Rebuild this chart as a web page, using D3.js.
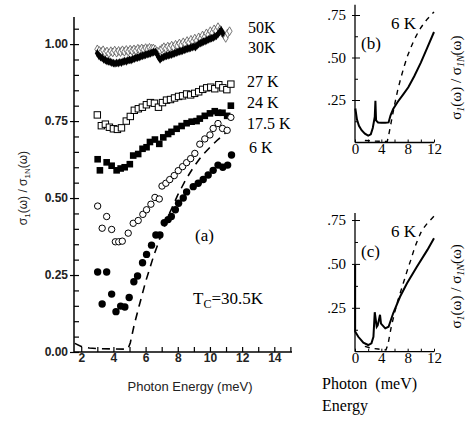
<!DOCTYPE html>
<html><head><meta charset="utf-8">
<script src="https://cdn.jsdelivr.net/npm/d3@7/dist/d3.min.js"></script>
<style>
body{margin:0;background:#fff;}
svg{display:block;}
.serif{font-family:"Liberation Serif","Times New Roman",serif;}
.sans{font-family:"Liberation Sans",Arial,sans-serif;}
</style></head>
<body><svg id="c" width="468" height="422"></svg>
<script>
// ---------- data ----------
const k50 = [[3.00,.983],[3.12,.978],[3.24,.975],[3.36,.980],[3.48,.972],[3.60,.976],[3.72,.970],[3.84,.977],[3.96,.973],[4.08,.979],[4.20,.972],[4.32,.978],[4.44,.974],[4.56,.980],[4.68,.975],[4.80,.981],[4.92,.976],[5.04,.982],[5.16,.978],[5.28,.983],[5.40,.979],[5.52,.985],[5.64,.981],[5.76,.986],[5.88,.982],[6.00,.987],[6.12,.984],[6.24,.988],[6.36,.985],[6.48,.986],[6.60,.982],[6.75,.975],[6.90,.980],[7.02,.985],[7.14,.990],[7.26,.986],[7.38,.992],[7.50,.988],[7.62,.995],[7.74,.990],[7.86,.998],[7.98,.994],[8.10,1.002],[8.22,.997],[8.34,1.006],[8.46,1.001],[8.58,1.010],[8.70,1.005],[8.82,1.014],[8.94,1.008],[9.06,1.018],[9.18,1.012],[9.30,1.022],[9.42,1.017],[9.54,1.028],[9.66,1.022],[9.78,1.035],[9.90,1.030],[10.02,1.042],[10.14,1.036],[10.26,1.048],[10.38,1.043],[10.50,1.055],[10.62,1.047],[10.74,1.038],[10.86,1.030],[10.98,1.020],[11.10,1.035],[11.22,1.042]];
const k30 = [[3.00,.970],[3.10,.962],[3.20,.958],[3.30,.955],[3.40,.950],[3.50,.948],[3.60,.945],[3.70,.944],[3.80,.942],[3.90,.940],[4.00,.938],[4.10,.937],[4.20,.939],[4.30,.938],[4.40,.941],[4.50,.940],[4.60,.943],[4.70,.945],[4.80,.944],[4.90,.947],[5.00,.949],[5.10,.948],[5.20,.951],[5.30,.953],[5.40,.955],[5.50,.956],[5.60,.958],[5.70,.960],[5.80,.962],[5.90,.963],[6.00,.965],[6.10,.967],[6.20,.968],[6.30,.970],[6.40,.972],[6.50,.974],[6.60,.975],[6.70,.968],[6.80,.958],[6.90,.950],[7.00,.955],[7.10,.958],[7.20,.960],[7.30,.962],[7.40,.963],[7.50,.965],[7.60,.966],[7.70,.968],[7.80,.970],[7.90,.972],[8.00,.974],[8.10,.976],[8.20,.977],[8.30,.979],[8.40,.981],[8.50,.983],[8.60,.985],[8.70,.986],[8.80,.988],[8.90,.990],[9.00,.992],[9.10,.990],[9.20,.996],[9.30,1.000],[9.40,1.003],[9.50,1.005],[9.60,1.008],[9.70,1.010],[9.80,1.012],[9.90,1.015],[10.00,1.017],[10.10,1.019],[10.20,1.021],[10.30,1.024],[10.40,1.027],[10.50,1.032],[10.60,1.040],[10.70,1.045],[10.80,1.035]];
const k27 = [[3.00,.770],[3.25,.735],[3.50,.740],[3.75,.730],[4.00,.725],[4.25,.723],[4.50,.728],[4.80,.750],[5.05,.765],[5.30,.785],[5.55,.790],[5.80,.795],[6.05,.803],[6.30,.810],[6.55,.808],[6.80,.795],[7.05,.810],[7.30,.818],[7.55,.820],[7.80,.825],[8.05,.830],[8.30,.832],[8.55,.838],[8.80,.835],[9.05,.840],[9.30,.845],[9.55,.853],[9.80,.858],[10.05,.860],[10.30,.855],[10.55,.868],[10.80,.858],[11.05,.852],[11.30,.870]];
const k24 = [[3.02,.626],[3.16,.590],[3.58,.616],[3.89,.605],[4.20,.590],[4.45,.596],[4.70,.600],[5.02,.610],[5.23,.638],[5.54,.643],[5.81,.660],[6.06,.665],[6.27,.682],[6.58,.690],[6.85,.676],[7.10,.697],[7.40,.708],[7.61,.715],[7.93,.725],[8.24,.734],[8.55,.743],[8.86,.748],[9.17,.750],[9.37,.758],[9.68,.767],[10.00,.775],[10.30,.782],[10.50,.777],[10.78,.777],[11.07,.767],[11.30,.800]];
const k175 = [[3.02,.474],[3.30,.402],[3.58,.440],[3.89,.398],[4.12,.358],[4.33,.358],[4.55,.360],[4.92,.386],[5.23,.418],[5.54,.427],[5.83,.447],[6.06,.462],[6.33,.480],[6.58,.502],[6.85,.497],[7.02,.539],[7.26,.548],[7.50,.560],[7.78,.573],[8.03,.589],[8.30,.602],[8.55,.615],[8.80,.628],[9.06,.645],[9.37,.675],[9.68,.692],[10.00,.705],[10.20,.726],[10.50,.742],[10.78,.726],[11.07,.720],[11.30,.762]];
const k6 = [[3.02,.260],[3.30,.156],[3.58,.260],[3.89,.188],[4.16,.131],[4.45,.149],[4.71,.146],[4.98,.177],[5.27,.228],[5.50,.247],[5.81,.290],[6.06,.317],[6.37,.347],[6.64,.380],[6.89,.380],[7.16,.420],[7.40,.430],[7.60,.440],[7.85,.462],[8.05,.483],[8.34,.500],[8.55,.520],[8.96,.537],[9.27,.548],[9.58,.560],[9.89,.575],[10.20,.590],[10.50,.607],[10.80,.600],[11.10,.607],[11.34,.640]];
const mbMain = [[1.6,.028],[2.0,.018],[2.5,.013],[3.0,.011],[4.0,.010],[4.9,.009],[5.05,.030],[5.3,.090],[5.6,.150],[6.0,.228],[6.5,.312],[7.0,.385],[7.5,.452],[8.0,.510],[8.5,.560],[9.0,.602],[9.5,.637],[10.0,.665],[10.5,.690],[11.0,.713],[11.2,.722]];
const bSolid = [[0.05,.200],[0.3,.135],[0.6,.098],[1.0,.072],[1.5,.052],[2.0,.040],[2.4,.048],[2.7,.085],[3.0,.150],[3.1,.245],[3.2,.130],[3.5,.118],[4.0,.116],[4.6,.116],[5.1,.118],[5.4,.160],[5.8,.198],[6.5,.240],[7.3,.282],[8.1,.325],[9.0,.390],[10.0,.470],[11.0,.560],[12.0,.650]];
const bDash = [[1.5,.012],[3.0,.008],[4.9,.006],[5.1,.040],[5.5,.120],[6.0,.220],[6.5,.310],[7.0,.385],[7.5,.452],[8.0,.512],[8.5,.560],[9.0,.605],[9.5,.642],[10.0,.675],[10.5,.703],[11.0,.727],[11.5,.748],[12.0,.768]];
const cSolid = [[0.02,.495],[0.02,.115],[0.5,.085],[1.27,.051],[2.0,.038],[2.5,.048],[2.8,.085],[3.0,.225],[3.3,.142],[3.45,.150],[3.8,.210],[3.95,.160],[4.6,.133],[5.1,.142],[5.8,.219],[6.84,.313],[7.9,.390],[9.4,.484],[11.0,.580],[12.0,.646]];
const cDash = [[1.5,.030],[2.5,.020],[3.5,.015],[4.7,.010],[5.0,.040],[5.5,.140],[6.0,.220],[6.5,.290],[7.0,.350],[7.5,.410],[8.0,.470],[8.5,.525],[9.0,.585],[9.5,.635],[10.0,.678],[10.5,.708],[11.0,.732],[11.5,.752],[12.0,.772]];
const mainXTicks = [2,4,6,8,10,12,14];
const mainYTicks = [0,0.25,0.5,0.75,1.0];
const insetXTicks = [0,4,8,12];
const insetYTicks = [0.25,0.5,0.75];
const seriesLabels = ["50K","30K","27 K","24 K","17.5 K","6 K"];

// ---------- drawing ----------
const svg = d3.select("#c");
const x = d3.scaleLinear().domain([1.55,15.1]).range([74,292]);
const y = d3.scaleLinear().domain([0,1.088]).range([352,17]);
const g = svg.append("g");

// axes
const xAx = d3.axisBottom(x).tickValues(d3.range(2,16,1)).tickSize(-5).tickFormat(d=>mainXTicks.includes(d)?d:"");
const gx = g.append("g").attr("transform","translate(0,352)").call(xAx);
gx.select(".domain").attr("d","M74,0H292").attr("stroke-width",1.5);
gx.selectAll("text").attr("class","sans").attr("font-size",12).attr("dy","0.6em").attr("font-weight","bold").attr("fill","#222");
gx.selectAll("line").attr("stroke-width",1.2);

const yAx = d3.axisLeft(y).tickValues(d3.range(0,1.09,0.05)).tickSize(-5).tickFormat(d=>{const r=Math.round(d*100)/100; return mainYTicks.some(t=>Math.abs(t-r)<1e-6)?d3.format(".2f")(r):"";});
const gy = g.append("g").attr("transform","translate(74,0)").call(yAx);
gy.select(".domain").attr("d","M0,17V352").attr("stroke-width",1.5);
gy.selectAll("text").attr("class","sans").attr("font-size",12).attr("x",-6).attr("font-weight","bold").attr("fill","#222");
gy.selectAll(".tick").filter(d=>mainYTicks.some(t=>Math.abs(t-d)<1e-6)).select("line").attr("x1",-4);
gy.selectAll("line").attr("stroke-width",1.2);

// dashed theory
const line = d3.line().x(d=>x(d[0])).y(d=>y(d[1]));
g.append("path").attr("d",line(mbMain)).attr("fill","none").attr("stroke","#000").attr("stroke-width",1.6).attr("stroke-dasharray","8,6");

// markers
const dia = d3.symbol().type(d3.symbolDiamond).size(22);
g.selectAll(".d50").data(k50).join("path").attr("transform",d=>`translate(${x(d[0])},${y(d[1])})`).attr("d",dia).attr("fill","#fff").attr("stroke","#555").attr("stroke-width",0.8);
g.selectAll(".d30").data(k30).join("path").attr("transform",d=>`translate(${x(d[0])},${y(d[1])})`).attr("d",dia).attr("fill","#000");
g.selectAll(".s27").data(k27).join("rect").attr("x",d=>x(d[0])-3.2).attr("y",d=>y(d[1])-3.2).attr("width",6.4).attr("height",6.4).attr("fill","#fff").attr("stroke","#000").attr("stroke-width",1);
g.selectAll(".s24").data(k24).join("rect").attr("x",d=>x(d[0])-3.3).attr("y",d=>y(d[1])-3.3).attr("width",6.6).attr("height",6.6).attr("fill","#000");
g.selectAll(".c175").data(k175).join("circle").attr("cx",d=>x(d[0])).attr("cy",d=>y(d[1])).attr("r",3.2).attr("fill","#fff").attr("stroke","#000").attr("stroke-width",1);
g.selectAll(".c6").data(k6).join("circle").attr("cx",d=>x(d[0])).attr("cy",d=>y(d[1])).attr("r",3.7).attr("fill","#000");

// labels
const labY = [33,53,87,108,129,153];
const labX = [248,248,247,247,247,249];
seriesLabels.forEach((t,i)=>g.append("text").attr("class","serif").attr("x",labX[i]).attr("y",labY[i]).attr("font-size",16).text(t));
g.append("text").attr("class","serif").attr("x",195).attr("y",241).attr("font-size",17).text("(a)");
const tc = g.append("text").attr("class","serif").attr("x",193).attr("y",304).attr("font-size",17);
tc.append("tspan").text("T");
tc.append("tspan").attr("font-size",12).attr("dy",4).text("C");
tc.append("tspan").attr("dy",-4).text("=30.5K");

g.append("text").attr("class","sans").attr("x",190).attr("y",391).attr("text-anchor","middle").attr("font-size",13).attr("fill","#222").text("Photon Energy (meV)");
const yl = g.append("text").attr("class","sans").attr("transform","translate(27,188) rotate(-90)").attr("text-anchor","middle").attr("font-size",12).attr("fill","#222");
yl.append("tspan").text("σ");
yl.append("tspan").attr("font-size",8).attr("dy",3).text("1");
yl.append("tspan").attr("dy",-3).text("(ω) / σ");
yl.append("tspan").attr("font-size",8).attr("dy",3).text("1N");
yl.append("tspan").attr("dy",-3).text("(ω)");

// ---------- insets ----------
function inset(top, bottom, ymax, solid, dash, tag){
  const xi = d3.scaleLinear().domain([0,12]).range([355,434]);
  const yi = d3.scaleLinear().domain([0,ymax]).range([bottom,top]);
  const gi = svg.append("g");
  const ax = d3.axisBottom(xi).tickValues(d3.range(0,13,2)).tickSize(-3).tickFormat(d=>insetXTicks.includes(d)?d:"");
  const gxa = gi.append("g").attr("transform",`translate(0,${bottom})`).call(ax);
  gxa.select(".domain").attr("d","M355,0H434").attr("stroke-width",1.3);
  gxa.selectAll("text").attr("class","serif").attr("font-size",15).attr("dy","0.55em").attr("fill","#000");
  const ay = d3.axisLeft(yi).tickValues([0.125,0.25,0.375,0.5,0.625,0.75]).tickSize(-3).tickFormat(d=>insetYTicks.includes(d)?d3.format(".2f")(d).slice(1):"");
  const gya = gi.append("g").attr("transform","translate(355,0)").call(ay);
  gya.select(".domain").attr("d",`M0,${top}V${bottom}`).attr("stroke-width",1.3);
  gya.selectAll("text").attr("class","serif").attr("font-size",15).attr("x",-9).attr("fill","#000");
  gya.selectAll(".tick").filter(d=>insetYTicks.includes(d)).select("line").attr("x1",-3).attr("x2",5);
  const li = d3.line().x(d=>xi(d[0])).y(d=>yi(d[1]));
  gi.append("path").attr("d",li(dash)).attr("fill","none").attr("stroke","#000").attr("stroke-width",1.4).attr("stroke-dasharray","5,5");
  gi.append("path").attr("d",li(solid)).attr("fill","none").attr("stroke","#000").attr("stroke-width",2);
  gi.append("text").attr("class","serif").attr("x",391).attr("y",yi(ymax)+24).attr("font-size",17).text("6 K");
  gi.append("text").attr("class","serif").attr("x",361).attr("y",yi(ymax)+44).attr("font-size",17).text(tag);
  const rl = gi.append("text").attr("class","serif").attr("transform",`translate(461,${(top+bottom)/2+4}) rotate(-90)`).attr("text-anchor","middle").attr("font-size",15);
  rl.append("tspan").text("σ");
  rl.append("tspan").attr("font-size",10).attr("font-style","italic").attr("dy",3).text("1");
  rl.append("tspan").attr("dy",-3).text("(ω) / σ");
  rl.append("tspan").attr("font-size",10).attr("font-style","italic").attr("dy",3).text("1N");
  rl.append("tspan").attr("dy",-3).text("(ω)");
}
inset(4.8, 142.5, 0.81, bSolid, bDash, "(b)");
inset(213, 351.7, 0.79, cSolid, cDash, "(c)");

svg.append("text").attr("class","serif").attr("x",322).attr("y",389).attr("font-size",16).attr("xml:space","preserve").text("Photon  (meV)");
svg.append("text").attr("class","serif").attr("x",322).attr("y",411).attr("font-size",16).text("Energy");
</script></body></html>
